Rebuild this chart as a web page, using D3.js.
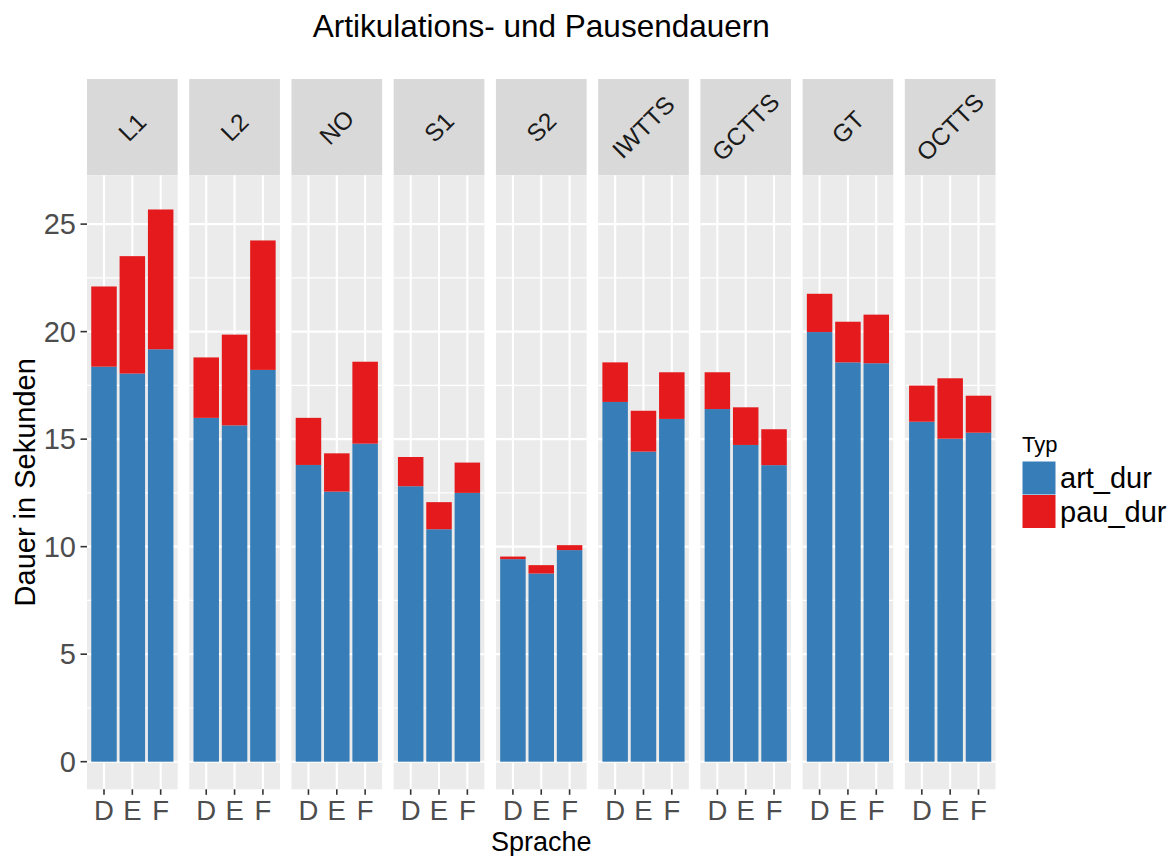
<!DOCTYPE html>
<html>
<head>
<meta charset="utf-8">
<script src="https://cdn.jsdelivr.net/npm/d3@7"></script>
<style>
  html, body { margin: 0; padding: 0; background: #fff; }
  svg { display: block; font-family: "Liberation Sans", Arial, Helvetica, sans-serif; }
</style>
</head>
<body>
<svg id="chart" width="1172" height="856"></svg>
<script>
// ---- Data ----
const panels = ["L1", "L2", "NO", "S1", "S2", "IWTTS", "GCTTS", "GT", "OCTTS"];
const categories = ["D", "E", "F"];
const seriesNames = ["art_dur", "pau_dur"];
// art_dur per panel (D, E, F)
const artDur = [
  [18.37, 18.05, 19.18],
  [15.99, 15.64, 18.22],
  [13.80, 12.56, 14.79],
  [12.81, 10.81, 12.50],
  [9.42, 8.75, 9.84],
  [16.73, 14.42, 15.94],
  [16.40, 14.73, 13.79],
  [19.98, 18.57, 18.53],
  [15.81, 15.02, 15.30]
];
// pau_dur per panel (D, E, F)
const pauDur = [
  [3.73, 5.46, 6.50],
  [2.81, 4.22, 6.02],
  [2.19, 1.78, 3.81],
  [1.36, 1.26, 1.41],
  [0.12, 0.39, 0.23],
  [1.84, 1.90, 2.17],
  [1.71, 1.75, 1.67],
  [1.78, 1.89, 2.26],
  [1.68, 2.81, 1.72]
];
const yTicks = [0, 5, 10, 15, 20, 25];
const yMinorTicks = [2.5, 7.5, 12.5, 17.5, 22.5];
const colors = ["#377EB8", "#E41A1C"];

// ---- Layout ----
const svg = d3.select("#chart");
const panelTop = 175.3, panelBottom = 789.3;
const stripTop = 79;
const panelLeft = 87, panelRight = 995.5;

const fx = d3.scaleBand().domain(panels).range([panelLeft, panelRight]).paddingInner(0.113).paddingOuter(0);
const bw = fx.bandwidth();
const x = d3.scalePoint().domain(categories).range([0, bw]).padding(0.6);
const barW = x.step() * 0.9;
const y = d3.scaleLinear().domain([-1.284, 27.27]).range([panelBottom, panelTop]);
const color = d3.scaleOrdinal().domain(seriesNames).range(colors);

// Title
svg.append("text")
  .attr("x", (panelLeft + panelRight) / 2)
  .attr("y", 37)
  .attr("text-anchor", "middle")
  .attr("font-size", 31.5)
  .attr("fill", "#000")
  .text("Artikulations- und Pausendauern");

panels.forEach((p, i) => {
  const g = svg.append("g").attr("transform", `translate(${fx(p)},0)`);
  // strip
  g.append("rect").attr("x", 0).attr("y", stripTop).attr("width", bw).attr("height", panelTop - stripTop).attr("fill", "#D9D9D9");
  g.append("text")
    .attr("transform", `translate(${bw / 2},${(stripTop + panelTop) / 2}) rotate(-45)`)
    .attr("text-anchor", "middle")
    .attr("dominant-baseline", "central")
    .attr("font-size", 24.5)
    .attr("fill", "#1A1A1A")
    .text(p);
  // panel bg
  g.append("rect").attr("x", 0).attr("y", panelTop).attr("width", bw).attr("height", panelBottom - panelTop).attr("fill", "#EBEBEB");
  // minor grid
  g.selectAll(".ymin").data(yMinorTicks).enter().append("line")
    .attr("x1", 0).attr("x2", bw).attr("y1", d => y(d)).attr("y2", d => y(d))
    .attr("stroke", "#fff").attr("stroke-width", 1.1);
  // major grid
  g.selectAll(".ymaj").data(yTicks).enter().append("line")
    .attr("x1", 0).attr("x2", bw).attr("y1", d => y(d)).attr("y2", d => y(d))
    .attr("stroke", "#fff").attr("stroke-width", 2.1);
  g.selectAll(".xmaj").data(categories).enter().append("line")
    .attr("x1", d => x(d)).attr("x2", d => x(d)).attr("y1", panelTop).attr("y2", panelBottom)
    .attr("stroke", "#fff").attr("stroke-width", 2.1);

  // stacked bars
  const rows = categories.map((c, j) => ({ cat: c, art_dur: artDur[i][j], pau_dur: pauDur[i][j] }));
  const stacked = d3.stack().keys(seriesNames)(rows);
  stacked.forEach(layer => {
    g.selectAll(null).data(layer).enter().append("rect")
      .attr("x", d => x(d.data.cat) - barW / 2)
      .attr("width", barW)
      .attr("y", d => y(d[1]))
      .attr("height", d => y(d[0]) - y(d[1]))
      .attr("fill", color(layer.key));
  });

  // x axis ticks + labels
  g.selectAll(".xt").data(categories).enter().append("line")
    .attr("x1", d => x(d)).attr("x2", d => x(d)).attr("y1", panelBottom).attr("y2", panelBottom + 5.5)
    .attr("stroke", "#333").attr("stroke-width", 1.6);
  g.selectAll(".xl").data(categories).enter().append("text")
    .attr("x", d => x(d)).attr("y", 820)
    .attr("text-anchor", "middle")
    .attr("font-size", 27.5)
    .attr("fill", "#4D4D4D")
    .text(d => d);
});

// y axis ticks + labels
svg.selectAll(".yt").data(yTicks).enter().append("line")
  .attr("x1", panelLeft - 6.5).attr("x2", panelLeft).attr("y1", d => y(d)).attr("y2", d => y(d))
  .attr("stroke", "#333").attr("stroke-width", 1.6);
svg.selectAll(".yl").data(yTicks).enter().append("text")
  .attr("x", 76).attr("y", d => y(d))
  .attr("text-anchor", "end")
  .attr("dominant-baseline", "central")
  .attr("font-size", 29)
  .attr("fill", "#4D4D4D")
  .text(d => d);

// axis titles
svg.append("text")
  .attr("x", (panelLeft + panelRight) / 2).attr("y", 850.5)
  .attr("text-anchor", "middle")
  .attr("font-size", 27)
  .attr("fill", "#000")
  .text("Sprache");
svg.append("text")
  .attr("transform", `translate(35,${(panelTop + panelBottom) / 2}) rotate(-90)`)
  .attr("text-anchor", "middle")
  .attr("font-size", 29)
  .attr("fill", "#000")
  .text("Dauer in Sekunden");

// legend
const lg = svg.append("g");
lg.append("text").attr("x", 1022).attr("y", 452).attr("font-size", 22).attr("fill", "#000").text("Typ");
seriesNames.forEach((s, k) => {
  const ky = 461.5 + k * 33.5;
  lg.append("rect").attr("x", 1022.5).attr("y", ky).attr("width", 33).attr("height", 33).attr("fill", color(s));
  lg.append("text").attr("x", 1060).attr("y", ky + 16.5)
    .attr("dominant-baseline", "central")
    .attr("font-size", 29).attr("fill", "#000").text(s);
});
</script>
</body>
</html>
